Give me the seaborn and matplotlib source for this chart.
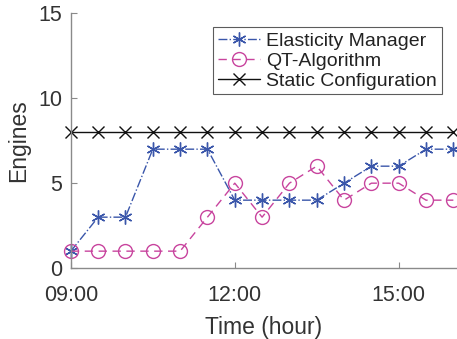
import numpy as np
import pandas as pd
import matplotlib
matplotlib.use('Agg')
import matplotlib.pyplot as plt
import seaborn as sns
from matplotlib.ticker import FuncFormatter

sns.set_style('white')
plt.rcParams['font.family'] = ['Liberation Sans', 'DejaVu Sans']

# time in hours, one sample every half hour
hours = [9.0, 9.5, 10.0, 10.5, 11.0, 11.5, 12.0, 12.5, 13.0, 13.5, 14.0, 14.5, 15.0, 15.5, 16.0]
elasticity = [1, 3, 3, 7, 7, 7, 4, 4, 4, 4, 5, 6, 6, 7, 7]
qt_algo = [1, 1, 1, 1, 1, 3, 5, 3, 5, 6, 4, 5, 5, 4, 4]
static_cfg = [8, 8, 8, 8, 8, 8, 8, 8, 8, 8, 8, 8, 8, 8, 8]

series_names = ['Elasticity Manager', 'QT-Algorithm', 'Static Configuration']
x_ticks = [9, 12, 15]
y_ticks = [0, 5, 10, 15]

df = pd.DataFrame({'Time': hours * 3,
                   'Engines': elasticity + qt_algo + static_cfg,
                   'Series': [series_names[0]] * len(hours) + [series_names[1]] * len(hours)
                             + [series_names[2]] * len(hours)})

fig = plt.figure(figsize=(4.57, 3.39), dpi=100)
ax = fig.add_axes([0.155, 0.209, 0.843, 0.752])

blue, pink, black = '#3a56aa', '#c8449e', '#111111'
styles = {
    'Elasticity Manager': dict(color=blue, linestyle='-.', marker=(6, 2, 0), markersize=10,
                               linewidth=1.0, markeredgewidth=1.0, markeredgecolor=blue),
    'QT-Algorithm': dict(color=pink, linestyle=(0, (6, 4)), marker='o', markersize=10,
                         linewidth=1.0, markerfacecolor='none', markeredgewidth=1.0,
                         markeredgecolor=pink),
    'Static Configuration': dict(color=black, linestyle='-', marker='x', markersize=8,
                                 linewidth=1.0, markeredgewidth=1.0, markeredgecolor=black),
}
for name in series_names:
    sub = df[df['Series'] == name]
    n_before = len(ax.lines)
    sns.lineplot(data=sub, x='Time', y='Engines', ax=ax, label=name)
    line = ax.lines[n_before]
    line.set(clip_on=False, **styles[name])

ax.set_xlim(9, 16.05)
ax.set_ylim(0, 15)
ax.set_xticks(x_ticks)
ax.set_yticks(y_ticks)
ax.xaxis.set_major_formatter(FuncFormatter(lambda v, p: '%02d:00' % int(v)))

for s in ['top', 'right']:
    ax.spines[s].set_visible(False)
for s in ['left', 'bottom']:
    ax.spines[s].set_color('#8a8a8a')
    ax.spines[s].set_linewidth(1.0)

ax.tick_params(direction='in', length=4, color='#8a8a8a', labelsize=15.5, labelcolor='#333333',
               bottom=True, left=True)
ax.tick_params(axis='x', pad=12)
ax.tick_params(axis='y', pad=6)
ax.set_xlabel('Time (hour)', fontsize=16.5, color='#333333', labelpad=7)
ax.set_ylabel('Engines', fontsize=16.5, color='#333333', labelpad=6)

leg = ax.legend(loc='upper right', bbox_to_anchor=(0.963, 0.945), fontsize=14, frameon=True,
                fancybox=False, edgecolor='#333333', handlelength=2.2, handletextpad=0.3,
                borderpad=0.25, labelspacing=0.12, borderaxespad=0.0)
leg.get_frame().set_linewidth(0.8)
for t in leg.get_texts():
    t.set_color('#222222')

fig.savefig('out.png', dpi=100)
